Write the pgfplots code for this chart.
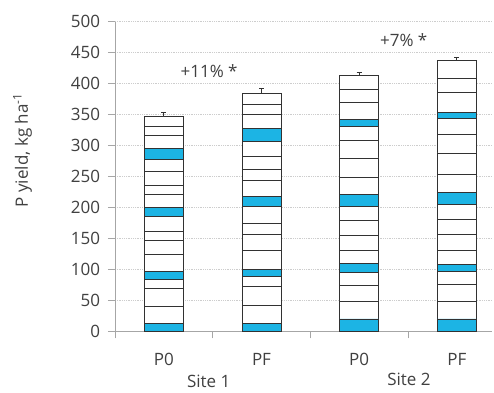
\documentclass[border=0pt]{standalone}
\usepackage{pgfplots}
\pgfplotsset{compat=1.18}
\usepackage{fontspec}
\setmainfont{Open Sans}
\definecolor{cy}{RGB}{28,180,228}
\definecolor{txt}{RGB}{64,64,64}
\definecolor{axg}{RGB}{166,166,166}
\definecolor{grd}{RGB}{205,205,205}
\definecolor{edge}{RGB}{50,50,50}
\begin{document}
\fontsize{17pt}{20pt}\selectfont
\begin{tikzpicture}
\begin{axis}[
  scale only axis, width=377pt, height=309.6pt,
  ybar stacked, bar width=39pt,
  xmin=-0.5, xmax=3.36, ymin=0, ymax=500,
  axis x line*=bottom, axis y line*=left,
  axis line style={axg, line width=0.9pt, -},
  ytick={0,50,...,500},
  xtick={-0.5,0.5,1.5,2.5}, xticklabels={},
  extra x ticks={0,1,2,3}, extra x tick labels={P0,PF,P0,PF},
  extra x tick style={major tick length=0pt, grid=none},
  tick align=outside, major tick length=7pt,
  tick style={axg, line width=0.9pt},
  ymajorgrids, grid style={grd, line width=0.6pt, dash pattern=on 1pt off 0.8pt},
  /pgf/number format/assume math mode=true,
  ticklabel style={font=\fontsize{17pt}{20pt}\selectfont, text=txt},
  yticklabel style={xshift=-2pt},
  xticklabel style={yshift=-16pt},
  ylabel={P yield, kg ha\textsuperscript{-1}},
  ylabel style={at={(axis description cs:-0.245,0.585)}, anchor=center, text=txt, font=\fontsize{17pt}{20pt}\selectfont},
  every axis plot/.append style={draw=edge, line width=0.8pt},
  clip=false,
]
\addplot[fill=cy] coordinates {(0,12.4) (1,13) (2,20) (3,20)};
\addplot[fill=white] coordinates {(0,27.6) (1,29) (2,29) (3,28)};
\addplot[fill=white] coordinates {(0,29) (1,30) (2,25) (3,27)};
\addplot[fill=white] coordinates {(0,15) (1,16) (2,21.7) (3,21.8)};
\addplot[fill=cy] coordinates {(0,12) (1,12.5) (2,13.3) (3,11.8)};
\addplot[fill=white] coordinates {(0,27.7) (1,30.1) (2,21.6) (3,22)};
\addplot[fill=white] coordinates {(0,23.3) (1,25.9) (2,24.2) (3,25.9)};
\addplot[fill=white] coordinates {(0,14) (1,17.5) (2,24.8) (3,24.5)};
\addplot[fill=white] coordinates {(0,25) (1,27) (2,22.4) (3,24)};
\addplot[fill=cy] coordinates {(0,14) (1,17) (2,19) (3,18.7)};
\addplot[fill=white] coordinates {(0,21) (1,25.5) (2,28) (3,29.3)};
\addplot[fill=white] coordinates {(0,15) (1,17.3) (2,31) (3,35)};
\addplot[fill=white] coordinates {(0,21.5) (1,22.2) (2,28) (3,29.7)};
\addplot[fill=white] coordinates {(0,19.5) (1,24) (2,22.6) (3,26.3)};
\addplot[fill=cy] coordinates {(0,18) (1,21) (2,11.3) (3,10)};
\addplot[fill=white] coordinates {(0,21) (1,22) (2,27.5) (3,32)};
\addplot[fill=white] coordinates {(0,14.6) (1,16) (2,20.9) (3,23)};
\addplot[fill=white, error bars/.cd, y dir=plus, y explicit,
  error mark options={rotate=90, mark size=2.5pt, draw=edge, line width=0.8pt},
  error bar style={draw=edge, line width=0.8pt}]
  coordinates {(0,16.7) +- (0,6.5) (1,17.9) +- (0,8) (2,22.6) +- (0,6) (3,29) +- (0,5)};
\node[text=txt] at (axis cs:0.463,420) {+11\% *};
\node[text=txt] at (axis cs:2.456,471) {+7\% *};
\node[text=txt] at (axis cs:0.46,-81) {Site 1};
\node[text=txt] at (axis cs:2.51,-78) {Site 2};
\end{axis}
\pgfresetboundingbox
\path (current axis.south west) ++(-115pt,-60.7pt) rectangle ++(494pt,392pt);
\end{tikzpicture}
\end{document}
